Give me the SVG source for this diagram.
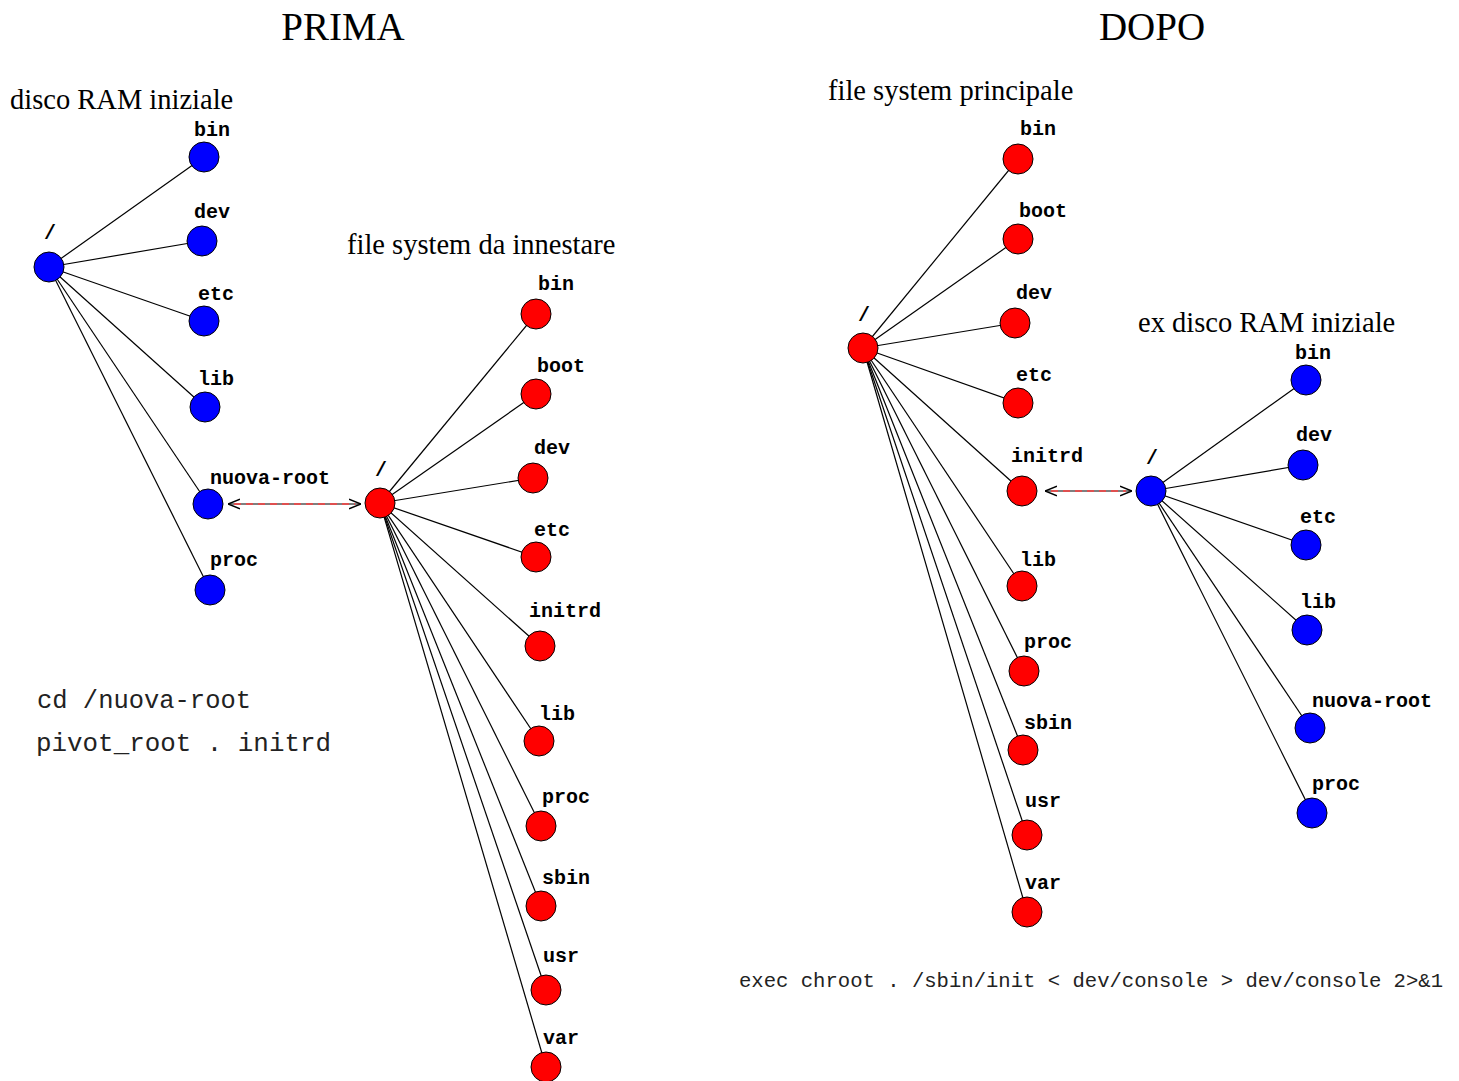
<svg xmlns="http://www.w3.org/2000/svg" width="1459" height="1081" viewBox="0 0 1459 1081">
<defs>
<style>
.t{font-family:"Liberation Serif","Times New Roman",serif;fill:#000}
.h{font-size:39px;text-anchor:middle}
.s{font-size:28.5px}
.l{font-family:"Liberation Mono","Courier New",monospace;font-weight:bold;font-size:20px;text-anchor:middle;fill:#000}
.c{font-family:"Liberation Mono","Courier New",monospace;fill:#222}
.b{fill:#0000ff;stroke:#000;stroke-width:1}
.r{fill:#ff0000;stroke:#000;stroke-width:1}
.e{stroke:#000;stroke-width:1.2;fill:none}
.a{stroke:#000;stroke-width:1.2;fill:none}
.ad{stroke:#ff4040;stroke-width:1.4;stroke-dasharray:7 5;fill:none}
</style>
<marker id="ah" viewBox="0 0 10 10" refX="10" refY="5" markerWidth="12" markerHeight="12" markerUnits="userSpaceOnUse" orient="auto-start-reverse">
<path d="M0,1 L10,5 L0,9" fill="none" stroke="#000" stroke-width="1.2"/>
</marker>
</defs>
<rect width="1459" height="1081" fill="#fff"/>

<g id="titles">
<text class="t h" x="343" y="40">PRIMA</text>
<text class="t h" x="1152" y="40">DOPO</text>
<text class="t s" x="10" y="109">disco RAM iniziale</text>
<text class="t s" x="347" y="254">file system da innestare</text>
<text class="t s" x="828" y="100">file system principale</text>
<text class="t s" x="1138" y="332">ex disco RAM iniziale</text>
</g>

<g id="connectors">
<line class="e" x1="49" y1="267" x2="204" y2="157"/>
<line class="e" x1="49" y1="267" x2="202" y2="241"/>
<line class="e" x1="49" y1="267" x2="204" y2="321"/>
<line class="e" x1="49" y1="267" x2="205" y2="407"/>
<line class="e" x1="49" y1="267" x2="208" y2="504"/>
<line class="e" x1="49" y1="267" x2="210" y2="590"/>
<line class="e" x1="380" y1="503" x2="536" y2="314"/>
<line class="e" x1="380" y1="503" x2="536" y2="394"/>
<line class="e" x1="380" y1="503" x2="533" y2="478"/>
<line class="e" x1="380" y1="503" x2="536" y2="557"/>
<line class="e" x1="380" y1="503" x2="540" y2="646"/>
<line class="e" x1="380" y1="503" x2="539" y2="741"/>
<line class="e" x1="380" y1="503" x2="541" y2="826"/>
<line class="e" x1="380" y1="503" x2="541" y2="906"/>
<line class="e" x1="380" y1="503" x2="546" y2="990"/>
<line class="e" x1="380" y1="503" x2="546" y2="1067"/>
<line class="e" x1="863" y1="348" x2="1018" y2="159"/>
<line class="e" x1="863" y1="348" x2="1018" y2="239"/>
<line class="e" x1="863" y1="348" x2="1015" y2="323"/>
<line class="e" x1="863" y1="348" x2="1018" y2="403"/>
<line class="e" x1="863" y1="348" x2="1022" y2="491"/>
<line class="e" x1="863" y1="348" x2="1022" y2="586"/>
<line class="e" x1="863" y1="348" x2="1024" y2="671"/>
<line class="e" x1="863" y1="348" x2="1023" y2="750"/>
<line class="e" x1="863" y1="348" x2="1027" y2="835"/>
<line class="e" x1="863" y1="348" x2="1027" y2="912"/>
<line class="e" x1="1151" y1="491" x2="1306" y2="380"/>
<line class="e" x1="1151" y1="491" x2="1303" y2="465"/>
<line class="e" x1="1151" y1="491" x2="1306" y2="545"/>
<line class="e" x1="1151" y1="491" x2="1307" y2="630"/>
<line class="e" x1="1151" y1="491" x2="1310" y2="728"/>
<line class="e" x1="1151" y1="491" x2="1312" y2="813"/>
<line class="a" x1="228" y1="504" x2="361" y2="504" marker-start="url(#ah)" marker-end="url(#ah)"/>
<line class="ad" x1="234" y1="504" x2="355" y2="504"/>
<line class="a" x1="1045" y1="491" x2="1132" y2="491" marker-start="url(#ah)" marker-end="url(#ah)"/>
<line class="ad" x1="1051" y1="491" x2="1126" y2="491"/>
</g>

<g id="left-root"><circle class="b" cx="49" cy="267" r="15"/><text class="l" x="50" y="239">/</text></g>
<g id="left-bin"><circle class="b" cx="204" cy="157" r="15"/><text class="l" x="212" y="136">bin</text></g>
<g id="left-dev"><circle class="b" cx="202" cy="241" r="15"/><text class="l" x="212" y="218">dev</text></g>
<g id="left-etc"><circle class="b" cx="204" cy="321" r="15"/><text class="l" x="216" y="300">etc</text></g>
<g id="left-lib"><circle class="b" cx="205" cy="407" r="15"/><text class="l" x="216" y="385">lib</text></g>
<g id="left-nuova-root"><circle class="b" cx="208" cy="504" r="15"/><text class="l" x="270" y="484">nuova-root</text></g>
<g id="left-proc"><circle class="b" cx="210" cy="590" r="15"/><text class="l" x="234" y="566">proc</text></g>

<g id="mid-root"><circle class="r" cx="380" cy="503" r="15"/><text class="l" x="381" y="476">/</text></g>
<g id="mid-bin"><circle class="r" cx="536" cy="314" r="15"/><text class="l" x="556" y="290">bin</text></g>
<g id="mid-boot"><circle class="r" cx="536" cy="394" r="15"/><text class="l" x="561" y="372">boot</text></g>
<g id="mid-dev"><circle class="r" cx="533" cy="478" r="15"/><text class="l" x="552" y="454">dev</text></g>
<g id="mid-etc"><circle class="r" cx="536" cy="557" r="15"/><text class="l" x="552" y="536">etc</text></g>
<g id="mid-initrd"><circle class="r" cx="540" cy="646" r="15"/><text class="l" x="565" y="617">initrd</text></g>
<g id="mid-lib"><circle class="r" cx="539" cy="741" r="15"/><text class="l" x="557" y="720">lib</text></g>
<g id="mid-proc"><circle class="r" cx="541" cy="826" r="15"/><text class="l" x="566" y="803">proc</text></g>
<g id="mid-sbin"><circle class="r" cx="541" cy="906" r="15"/><text class="l" x="566" y="884">sbin</text></g>
<g id="mid-usr"><circle class="r" cx="546" cy="990" r="15"/><text class="l" x="561" y="962">usr</text></g>
<g id="mid-var"><circle class="r" cx="546" cy="1067" r="15"/><text class="l" x="561" y="1044">var</text></g>

<g id="r-root"><circle class="r" cx="863" cy="348" r="15"/><text class="l" x="864" y="321">/</text></g>
<g id="r-bin"><circle class="r" cx="1018" cy="159" r="15"/><text class="l" x="1038" y="135">bin</text></g>
<g id="r-boot"><circle class="r" cx="1018" cy="239" r="15"/><text class="l" x="1043" y="217">boot</text></g>
<g id="r-dev"><circle class="r" cx="1015" cy="323" r="15"/><text class="l" x="1034" y="299">dev</text></g>
<g id="r-etc"><circle class="r" cx="1018" cy="403" r="15"/><text class="l" x="1034" y="381">etc</text></g>
<g id="r-initrd"><circle class="r" cx="1022" cy="491" r="15"/><text class="l" x="1047" y="462">initrd</text></g>
<g id="r-lib"><circle class="r" cx="1022" cy="586" r="15"/><text class="l" x="1038" y="566">lib</text></g>
<g id="r-proc"><circle class="r" cx="1024" cy="671" r="15"/><text class="l" x="1048" y="648">proc</text></g>
<g id="r-sbin"><circle class="r" cx="1023" cy="750" r="15"/><text class="l" x="1048" y="729">sbin</text></g>
<g id="r-usr"><circle class="r" cx="1027" cy="835" r="15"/><text class="l" x="1043" y="807">usr</text></g>
<g id="r-var"><circle class="r" cx="1027" cy="912" r="15"/><text class="l" x="1043" y="889">var</text></g>

<g id="rb-root"><circle class="b" cx="1151" cy="491" r="15"/><text class="l" x="1152" y="464">/</text></g>
<g id="rb-bin"><circle class="b" cx="1306" cy="380" r="15"/><text class="l" x="1313" y="359">bin</text></g>
<g id="rb-dev"><circle class="b" cx="1303" cy="465" r="15"/><text class="l" x="1314" y="441">dev</text></g>
<g id="rb-etc"><circle class="b" cx="1306" cy="545" r="15"/><text class="l" x="1318" y="523">etc</text></g>
<g id="rb-lib"><circle class="b" cx="1307" cy="630" r="15"/><text class="l" x="1318" y="608">lib</text></g>
<g id="rb-nuova-root"><circle class="b" cx="1310" cy="728" r="15"/><text class="l" x="1372" y="707">nuova-root</text></g>
<g id="rb-proc"><circle class="b" cx="1312" cy="813" r="15"/><text class="l" x="1336" y="790">proc</text></g>

<g id="commands">
<text class="c" x="37" y="708" font-size="25" textLength="214" lengthAdjust="spacingAndGlyphs">cd /nuova-root</text>
<text class="c" x="36" y="751" font-size="25" textLength="295" lengthAdjust="spacingAndGlyphs">pivot_root . initrd</text>
<text class="c" x="739" y="987" font-size="21" textLength="704" lengthAdjust="spacingAndGlyphs">exec chroot . /sbin/init &lt; dev/console &gt; dev/console 2&gt;&amp;1</text>
</g>
</svg>
